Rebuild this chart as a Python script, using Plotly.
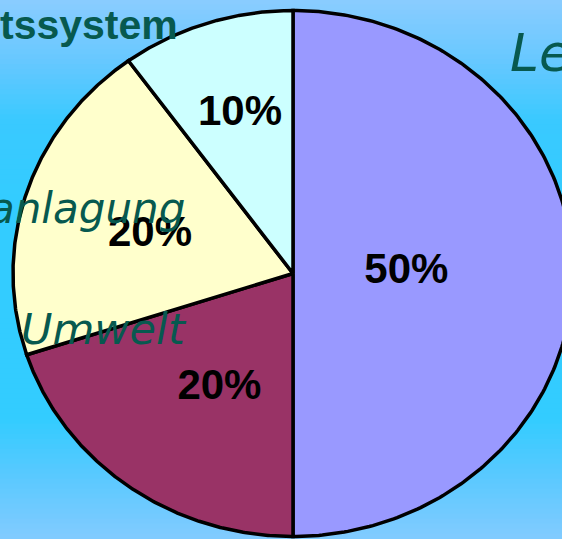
import numpy as np
import plotly.graph_objects as go

# ---- data ----
categories = ["Lebensstil", "Umwelt", "Veranlagung", "Gesundheitssystem"]
values = [50, 20, 20, 10]
slice_colors = ["#9999FF", "#993366", "#FFFFCC", "#CCFFFF"]

# visible (cropped) category labels from the slide
label_texts = ["tssystem", "Le", "anlagung", "Umwelt"]

# ---- layout / style ----
W, H = 562, 539
CX, CY, RX, RY = 293, 273.5, 280, 263
label_fx = [0.405, 0.447, 0.537, 0.613]
label_fy = [0.5, 0.547, 0.45, 0.632]
TEAL = "#07594F"

fig = go.Figure()

total = sum(values)
cum = 0.0
for cat, v, col in zip(categories, values, slice_colors):
    a0 = 2 * np.pi * cum / total
    a1 = 2 * np.pi * (cum + v) / total
    t = np.linspace(a0, a1, 240)
    xs = np.concatenate([[CX], CX + RX * np.sin(t), [CX]])
    ys = np.concatenate([[CY], CY - RY * np.cos(t), [CY]])
    fig.add_trace(go.Scatter(x=xs, y=ys, mode="lines", fill="toself",
                             fillcolor=col, line=dict(color="black", width=3.5),
                             name=cat, hoverinfo="name", showlegend=False))
    cum += v

# percentage labels
cum = 0.0
lx, ly, lt = [], [], []
for v, fx, fy in zip(values, label_fx, label_fy):
    mid = 2 * np.pi * (cum + v / 2) / total
    lx.append(CX + RX * fx * np.sin(mid))
    ly.append(CY - 1 - RY * fy * np.cos(mid))
    lt.append(f"{v}%")
    cum += v
fig.add_trace(go.Scatter(x=lx, y=ly, mode="text", text=lt,
                         textposition="middle center",
                         textfont=dict(family="Liberation Sans", size=42, color="black", weight="bold"),
                         hoverinfo="skip", showlegend=False))

# background gradient (vertical)
stops = [(0, (0x8A, 0xCC, 0xFF)), (60, (0x68, 0xC8, 0xFF)), (120, (0x3A, 0xC9, 0xFF)),
         (200, (0x33, 0xCC, 0xFF)), (420, (0x33, 0xCC, 0xFF)), (470, (0x55, 0xC9, 0xFF)),
         (539, (0x82, 0xCB, 0xFF))]
shapes = []
n = 108
for i in range(n):
    y0 = H * i / n
    y1 = H * (i + 1) / n
    ym = (y0 + y1) / 2
    c = [int(round(np.interp(ym, [s[0] for s in stops], [s[1][k] for s in stops]))) for k in range(3)]
    shapes.append(dict(type="rect", xref="paper", yref="paper", x0=0, x1=1,
                       y0=1 - y1 / H - 0.001, y1=1 - y0 / H + 0.001,
                       fillcolor=f"rgb({c[0]},{c[1]},{c[2]})", line=dict(width=0), layer="below"))


def ann(px, py, text, font):
    return dict(x=px / W, y=1 - py / H, xref="paper", yref="paper", text=text,
                xanchor="left", yanchor="middle", showarrow=False, font=font)


annotations = [
    ann(-2, 25, label_texts[0], dict(family="Liberation Sans", size=41, color=TEAL, weight="bold")),
    ann(508, 53, label_texts[1], dict(family="DejaVu Sans", size=52, color=TEAL, style="italic")),
    ann(-13, 208, label_texts[2], dict(family="DejaVu Sans", size=42, color=TEAL, style="italic")),
    ann(19, 329, label_texts[3], dict(family="DejaVu Sans", size=43, color=TEAL, style="italic")),
]

fig.update_layout(
    width=W, height=H,
    margin=dict(l=0, r=0, t=0, b=0, pad=0, autoexpand=False),
    paper_bgcolor="#33CCFF", plot_bgcolor="rgba(0,0,0,0)",
    xaxis=dict(range=[0, W], visible=False, fixedrange=True),
    yaxis=dict(range=[H, 0], visible=False, fixedrange=True),
    shapes=shapes, annotations=annotations,
)

fig.write_html("out.html", config={"displayModeBar": False},
               post_script="document.body.style.margin='0';document.body.style.overflow='hidden';")
